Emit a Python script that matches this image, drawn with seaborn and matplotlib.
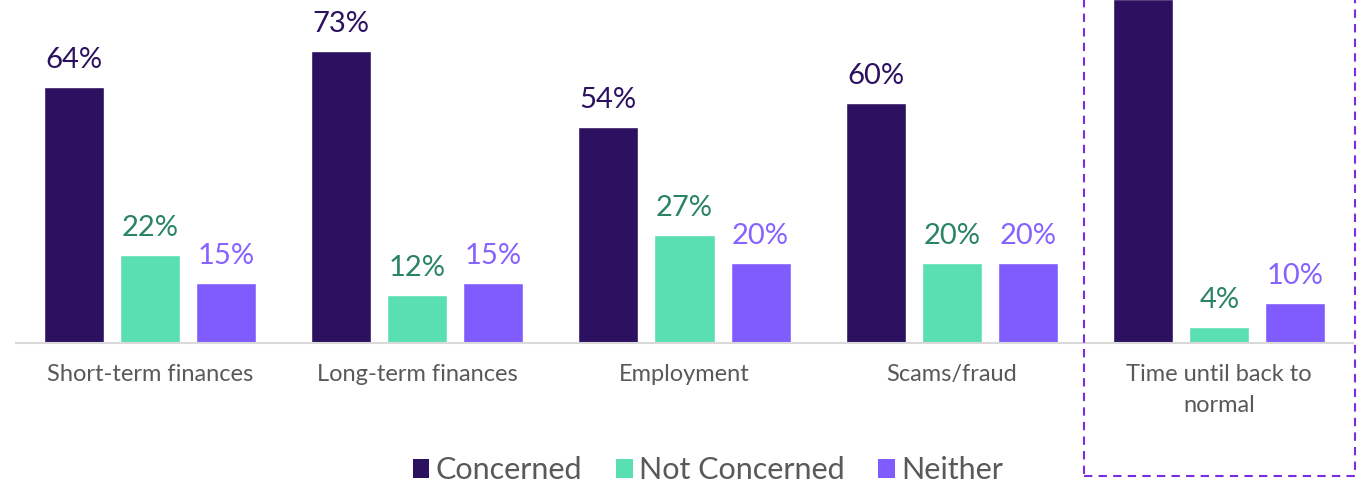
import numpy as np
import pandas as pd
import matplotlib.pyplot as plt
import seaborn as sns
from matplotlib.patches import Patch, Rectangle

categories = ["Short-term finances", "Long-term finances", "Employment",
              "Scams/fraud", "Time until back to\nnormal"]
concerned = [64, 73, 54, 60, 86]
not_concerned = [22, 12, 27, 20, 4]
neither = [15, 15, 20, 20, 10]
series = ["Concerned", "Not Concerned", "Neither"]

bar_colors = ["#2C1160", "#5ADFB3", "#805CFF"]
label_colors = ["#2C1160", "#2A8463", "#8663FF"]
text_grey = "#595959"

df = pd.DataFrame({
    "category": categories * 3,
    "series": np.repeat(series, len(categories)),
    "value": concerned + not_concerned + neither,
})

sns.set_style("white")
plt.rcParams["font.family"] = ["Lato", "DejaVu Sans"]

fig = plt.figure(figsize=(13.69, 4.83), dpi=100)
ax = fig.add_axes([16 / 1369, 140 / 483, 1337 / 1369, 343 / 483])

sns.barplot(data=df, x="category", y="value", hue="series", hue_order=series,
            palette=bar_colors, width=0.854, gap=0.21, saturation=1,
            legend=False, ax=ax)

ax.set_ylim(0, 85.75)
ax.set_xlim(-0.5, len(categories) - 0.5)

for cont, col in zip(ax.containers, label_colors):
    vals = [int(round(b.get_height())) for b in cont]
    ax.bar_label(cont, labels=[f"{v}%" for v in vals], padding=10,
                 color=col, fontsize=21)

sns.despine(ax=ax, left=True, top=True, right=True)
ax.spines["bottom"].set_color("#D9D9D9")
ax.spines["bottom"].set_linewidth(1.5)
ax.set_yticks([])
ax.set_xlabel("")
ax.set_ylabel("")
ax.tick_params(axis="x", length=0, pad=15, labelsize=17, labelcolor=text_grey)
for t in ax.get_xticklabels():
    t.set_linespacing(1.6)

handles = [Patch(facecolor=c, edgecolor="none") for c in bar_colors]
fig.legend(handles, series, loc="lower center", bbox_to_anchor=(0.517, -0.06),
           ncol=3, frameon=False, fontsize=22, handlelength=0.55,
           handleheight=0.55, handletextpad=0.2, columnspacing=1.1,
           labelcolor=text_grey)

box = Rectangle((1084 / 1369, 7 / 483), 271 / 1369, 1.0, transform=fig.transFigure,
                fill=False, edgecolor="#7B2BE0", linestyle=(0, (4, 3)),
                linewidth=1.5, clip_on=False)
fig.add_artist(box)

fig.savefig("out.png", dpi=100)
